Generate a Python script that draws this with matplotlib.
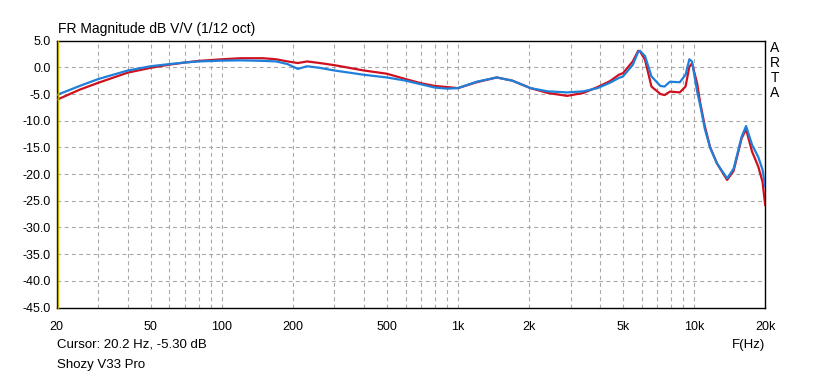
import numpy as np
import matplotlib
matplotlib.use("Agg")
import matplotlib.pyplot as plt
from matplotlib.ticker import FixedLocator, NullFormatter

plt.rcParams["font.family"] = ["Liberation Sans", "DejaVu Sans"]

# frequency points (Hz)
freq = [20, 25, 30, 40, 50, 60, 70, 80, 100, 120, 150, 170, 190, 210, 230, 260,
        300, 400, 500, 600, 700, 800, 900, 1000, 1200, 1460, 1700, 2030, 2400,
        2900, 3400, 3900, 4400, 4800, 5000, 5500, 5800, 5900, 6200, 6600, 7200,
        7500, 7900, 8700, 9200, 9550, 9800, 10300, 10600, 11100, 11700, 12500,
        13800, 14700, 15900, 16600, 17600, 18700, 19500, 20000]

red_db = [-6.1, -4.2, -2.9, -1.0, -0.1, 0.5, 0.9, 1.2, 1.5, 1.7, 1.7, 1.5, 1.1, 0.8, 1.1, 0.8,
          0.4, -0.6, -1.2, -2.2, -3.0, -3.5, -3.7, -3.9, -2.8, -1.9, -2.5, -3.9, -4.8,
          -5.35, -4.8, -3.7, -2.6, -1.4, -1.1, 1.1, 3.1, 3.0, 1.4, -3.6, -5.0,
          -5.2, -4.55, -4.7, -3.6, 0.1, 0.75, -3.0, -6.5, -11.0, -15.0, -18.0,
          -21.1, -19.4, -13.3, -11.6, -15.8, -18.6, -21.5, -25.8]

blue_db = [-5.2, -3.5, -2.2, -0.6, 0.2, 0.6, 0.9, 1.1, 1.25, 1.3, 1.2, 1.1, 0.6, -0.3, 0.2, -0.1,
           -0.6, -1.4, -1.9, -2.5, -3.2, -3.8, -4.0, -3.9, -2.7, -1.9, -2.5, -3.9, -4.5,
           -4.7, -4.5, -3.9, -2.9, -2.0, -1.7, 0.45, 2.9, 3.1, 2.1, -1.7, -3.5,
           -3.6, -2.7, -2.8, -1.4, 1.5, 1.1, -4.5, -7.0, -11.5, -15.1, -18.0,
           -20.8, -19.0, -13.0, -11.0, -14.5, -16.8, -19.2, -22.3]

xticks = [20, 50, 100, 200, 500, 1000, 2000, 5000, 10000, 20000]
xtick_labels = ["20", "50", "100", "200", "500", "1k", "2k", "5k", "10k", "20k"]
yticks = np.arange(-45, 5.1, 5)

fig = plt.figure(figsize=(8.21, 3.76), dpi=100)
ax = fig.add_axes([0.069, 0.182, 0.863, 0.710])

ax.set_xscale("log")
ax.set_xlim(20, 20000)
ax.set_ylim(-45, 5)

# grid: 1..9 steps per decade vertical, every 5 dB horizontal
minor = [m * d for d in (10, 100, 1000, 10000) for m in range(1, 10) if 20 < m * d < 20000]
for f in minor:
    ax.axvline(f, color="#a8a8a8", lw=0.8, ls=(0, (3.5, 3)), zorder=1)
for y in yticks[1:-1]:
    ax.axhline(y, color="#a8a8a8", lw=0.8, ls=(0, (3.5, 3)), zorder=1)

ax.plot(freq, red_db, color="#d0101e", lw=1.6, zorder=3)
ax.plot(freq, blue_db, color="#1f80dc", lw=1.6, zorder=4)

# cursor line at 20.2 Hz
ax.axvline(20.2, color="#b8a800", lw=1.0, zorder=5, clip_on=False)

ax.xaxis.set_major_locator(FixedLocator(xticks))
ax.set_xticklabels(xtick_labels)
ax.xaxis.set_minor_formatter(NullFormatter())
ax.set_yticks(yticks)
ax.set_yticklabels([f"{v:.1f}" for v in yticks])
ax.tick_params(which="both", length=0, labelsize=9, pad=4)
ax.tick_params(axis="x", pad=10)
for s in ax.spines.values():
    s.set_color("black")
    s.set_linewidth(1.0)

fig.text(0.071, 0.912, "FR Magnitude dB V/V (1/12 oct)", fontsize=10, va="baseline")
fig.text(0.069, 0.085, "Cursor: 20.2 Hz, -5.30 dB", fontsize=9.5, va="center")
fig.text(0.932, 0.083, "F(Hz)", fontsize=9.5, va="center", ha="right")
fig.text(0.069, 0.030, "Shozy V33 Pro", fontsize=9.5, va="center")
for i, ch in enumerate("ARTA"):
    fig.text(0.944, 0.873 - i * 0.040, ch, fontsize=10, va="center", ha="center")

fig.savefig("out.png", dpi=100)
